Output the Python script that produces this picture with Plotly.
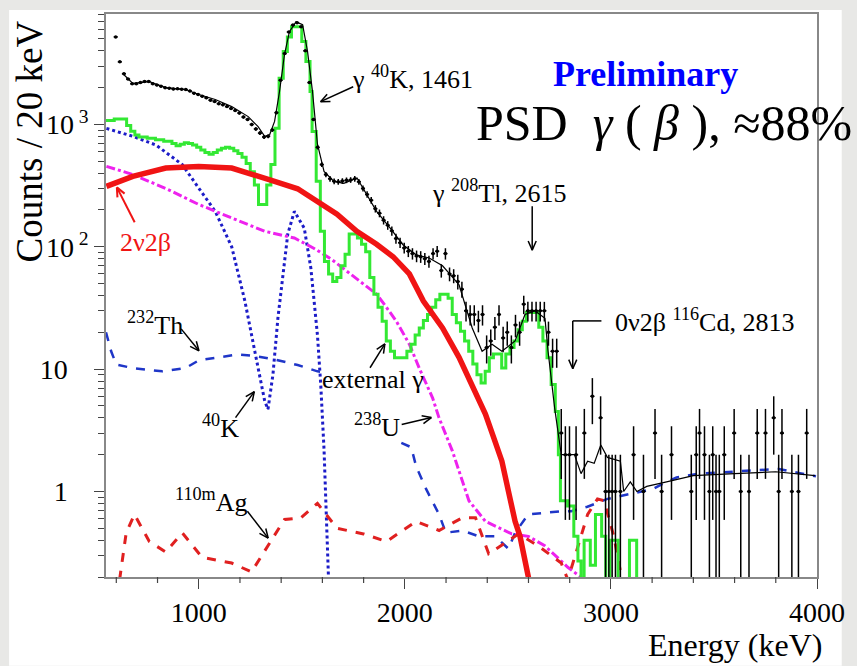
import math
import numpy as np
import plotly.graph_objects as go

W, H = 857, 666
L, R, T, B = 106, 825, 12, 577
FONT = "'Liberation Serif', 'Times New Roman', Times, serif"


def fx(x):
    return (x - L) / (R - L)


def fy(y):
    return (B - y) / (B - T)


# ---------------- data (Energy keV, counts / 20 keV) ----------------
data_E = [597, 617, 637, 657, 677, 697, 717, 737, 757, 777, 797, 817, 837, 857, 877, 897, 917, 937,
          957, 977, 997, 1017, 1037, 1057, 1077, 1097, 1117, 1137, 1157, 1177, 1197, 1217, 1237, 1257,
          1277, 1297, 1317, 1337, 1357, 1377, 1397, 1417, 1437, 1457, 1477, 1497, 1517, 1537, 1557,
          1577, 1597, 1617, 1637, 1657, 1677, 1697, 1717, 1737, 1757, 1777, 1797, 1817, 1837, 1857,
          1877, 1897, 1917, 1937, 1957, 1977, 1997, 2017, 2037, 2057, 2077, 2097, 2117, 2137, 2157,
          2177, 2197, 2217, 2237, 2257, 2277, 2297, 2317, 2337, 2357, 2377, 2397, 2417, 2437, 2457,
          2477, 2497, 2517, 2537, 2557, 2577, 2597, 2617, 2637, 2657, 2677, 2697, 2717, 2737,
          2759, 2779, 2799, 2831, 2871, 2910, 2950, 2974, 2990, 3006, 3022, 3046, 3110, 3158, 3214,
          3246, 3294, 3390, 3414, 3430, 3454, 3478, 3494, 3510, 3526, 3550, 3598, 3630, 3670, 3710,
          3750, 3790, 3814, 3830, 3878, 3910, 3950]
data_C = [5200, 3250, 2600, 2350, 2150, 2150, 2200, 2250, 2250, 2150, 2100, 2050, 2000, 1980, 1950, 1960, 1940, 1930,
          1880, 1800, 1760, 1700, 1650, 1580, 1540, 1480, 1450, 1400, 1350, 1300, 1240, 1150, 1100, 1000,
          920, 850, 790, 800, 900, 1250, 2300, 3800, 5700, 6500, 6800, 6300, 4000, 2200, 1100,
          650, 470, 390, 360, 343, 340, 345, 350, 352, 360, 340, 300, 268, 240, 205,
          188, 165, 150, 135, 117, 108, 98, 92, 88, 84, 83, 80, 76, 88, 92,
          64, 88, 60, 58, 52, 45, 30, 28, 28, 25, 28, 15, 17, 22, 28,
          18, 20, 15, 23, 20, 34, 30, 30, 30, 30, 30, 20, 14, 14,
          3, 2, 2, 2, 3, 6, 4, 1, 1, 1, 1, 1, 2, 1, 3,
          1, 2, 1, 2, 3, 2, 1, 2, 1, 1, 2, 3, 1, 1, 3,
          3, 4, 1, 3, 1, 1, 3]

fit_E = [632, 680, 760, 840, 936, 1000, 1080, 1160, 1240, 1288, 1320, 1344, 1368, 1392, 1416, 1440, 1472,
         1504, 1528, 1552, 1576, 1608, 1656, 1704, 1768, 1816, 1863, 1928, 1991, 2055, 2118, 2183, 2263,
         2327, 2375, 2423, 2471, 2535, 2583, 2631, 2680, 2695, 2727, 2759, 2823, 2855, 2887, 2919, 2951,
         2983, 3046, 3062, 3094, 3126, 3174, 3270, 3400, 3600, 3800, 3990]
fit_C = [2600, 2170, 2240, 2000, 1930, 1760, 1600, 1400, 1160, 960, 800, 824, 1060, 1860, 3720, 5740, 6900,
         6550, 3950, 1860, 690, 413, 343, 330, 365, 268, 195, 143, 104, 86, 81, 70, 49,
         21.7, 14, 16, 14, 17, 28, 30, 26, 14, 4.8, 2.0, 2.0, 1.4, 1.77, 1.7, 2.4,
         1.9, 1.77, 1.0, 1.2, 1.0, 1.1, 1.2, 1.35, 1.4, 1.45, 1.35]

ext_E = [550, 590, 650, 670, 690, 710, 750, 790, 830, 870, 890, 910, 930, 950, 970, 990, 1010, 1030,
         1050, 1070, 1090, 1110, 1130, 1150, 1170, 1190, 1210, 1230, 1250, 1270, 1290, 1330, 1350,
         1370, 1390, 1410, 1430, 1450, 1500, 1520, 1540, 1550, 1570, 1590, 1610, 1630, 1650, 1670,
         1690, 1710, 1730, 1770, 1790, 1810, 1830, 1850, 1870, 1890, 1910, 1930, 1950, 2010, 2030,
         2050, 2070, 2090, 2110, 2130, 2150, 2170, 2210, 2230, 2250, 2270, 2290, 2310, 2330, 2350,
         2370, 2390, 2410, 2430, 2450, 2470, 2490, 2510, 2530, 2550, 2570, 2590, 2650, 2670, 2690,
         2710, 2730, 2745, 2755, 2790, 2820, 2840, 2855, 2870, 2900, 2925, 2955, 2975, 2995, 3035,
         3090, 3125, 4000]
ext_C = [1080, 1110, 980, 880, 820, 790, 770, 750, 730, 700, 670, 690, 710, 700, 680, 650, 620, 590,
         570, 590, 620, 640, 650, 640, 610, 580, 540, 480, 410, 320, 222, 320, 470,
         930, 2390, 3950, 5200, 6300, 4770, 3270, 1860, 877, 343, 134, 76, 60, 52, 56,
         70, 87, 127, 118, 105, 91, 56, 41, 32, 24.6, 17, 14, 12.4, 14, 16,
         19, 21.7, 25, 28, 32, 37, 41, 38, 28, 24, 20.4, 17, 14, 11, 9,
         7.7, 9.6, 12.4, 13.3, 13.3, 10.2, 13.3, 15, 17, 21, 24.6, 29, 22, 17, 12.4,
         7.5, 4.5, 2.0, 0.84, 0.76, 0.43, 0.27, 0.01, 0.4, 0.25, 0.65, 0.43, 0.01, 0.4, 0.01,
         0.4, 0.01, 0.01]

bb2n_E = [552, 680, 840, 1000, 1160, 1272, 1368, 1480, 1576, 1671, 1767, 1863, 1943, 2022, 2090, 2183,
          2263, 2327, 2359, 2391, 2430, 2471, 2503, 2535, 2559, 2583, 2605]
bb2n_C = [312, 376, 440, 454, 440, 390, 343, 298, 235, 185, 134, 105, 83, 60, 36, 21.7,
          12.5, 7.5, 5.7, 4.3, 2.8, 1.77, 1.0, 0.57, 0.43, 0.27, 0.18]

k40_E = [552, 680, 792, 920, 1000, 1080, 1160, 1224, 1272, 1320, 1336, 1360, 1384, 1432, 1464, 1512,
         1544, 1576, 1592, 1608, 1632]
k40_C = [930, 800, 680, 470, 302, 195, 100, 36, 14, 5.5, 4.7, 9, 26, 127, 195, 142,
         67, 19, 7.5, 2.2, 0.15]

u238_E = [552, 680, 840, 1000, 1160, 1320, 1464, 1560, 1640, 1720, 1800, 1863, 1911, 1959, 2022, 2070,
          2135, 2166, 2231, 2311, 2391, 2519, 2599, 2679, 2759, 2791, 2871]
u238_C = [455, 390, 300, 222, 172, 134, 118, 97, 80, 63, 49, 41, 32, 24.6, 16, 10.2,
          5.8, 4.0, 2.14, 0.84, 0.57, 0.45, 0.43, 0.36, 0.27, 0.24, 0.19]

th232_E = [550, 575, 600, 680, 823, 936, 1000, 1100, 1192, 1272, 1368, 1480, 1576, 1620, None,
           1983, 2031, 2055, 2103, 2166, 2199, 2279, 2359, 2439, 2503, 2535, 2599, 2679, 2759, 2807,
           2886, 2983, 3110, 3206, 3270, 3318, 3430, 3590, 3750, 3814, 3910, 3995]
th232_C = [20, 14, 10.9, 10.2, 9.6, 10.2, 11.8, 12.5, 13.2, 12.8, 12, 10.8, 9.6, 9.4, None,
           2.5, 2.3, 1.6, 1.05, 0.65, 0.46, 0.48, 0.43, 0.43, 0.34, 0.46, 0.65, 0.67, 0.69, 0.69,
           0.75, 0.87, 0.97, 1.05, 1.2, 1.3, 1.4, 1.45, 1.5, 1.53, 1.42, 1.33]

ag110_E = [616, 648, 688, 760, 840, 920, 1016, 1160, 1256, 1336, 1416, 1496, 1576, 1671, 1800, 1911,
           2055, 2166, 2279, 2343, 2407, 2487, 2551, 2647, 2759, 2791, 2839, 2887, 2935, 2967, 3014, 3054]
ag110_C = [0.19, 0.46, 0.65, 0.39, 0.32, 0.46, 0.29, 0.26, 0.22, 0.36, 0.59, 0.61, 0.8, 0.5, 0.45, 0.39,
           0.57, 0.48, 0.61, 0.61, 0.31, 0.38, 0.45, 0.36, 0.26, 0.19, 0.36, 0.65, 0.87, 0.84, 0.43, 0.19]

x_ticks = [1000, 2000, 3000, 4000]
x_minor = [600, 800, 1200, 1400, 1600, 1800, 2200, 2400, 2600, 2800, 3200, 3400, 3600, 3800]
y_ticks = [1, 10, 100, 1000]
y_ticktext = ["1\u00a0\u00a0\u00a0", "10\u00a0\u00a0\u00a0", "10<sup> 2</sup>", "10<sup> 3</sup>"]

# ---------------- figure ----------------
fig = go.Figure()

fig.add_trace(go.Scatter(x=k40_E, y=k40_C, mode="lines",
                         line=dict(color="#1c1cc8", width=3, dash="dot")))
fig.add_trace(go.Scatter(x=th232_E, y=th232_C, mode="lines", connectgaps=False,
                         line=dict(color="#1f36c8", width=2.5, dash="dash")))
fig.add_trace(go.Scatter(x=u238_E, y=u238_C, mode="lines",
                         line=dict(color="#ee22ee", width=3, dash="dashdot")))
fig.add_trace(go.Scatter(x=ag110_E, y=ag110_C, mode="lines",
                         line=dict(color="#e02020", width=3, dash="dash")))
fig.add_trace(go.Scatter(x=ext_E, y=ext_C, mode="lines", line_shape="hv",
                         line=dict(color="#33e833", width=3)))
fig.add_trace(go.Scatter(x=bb2n_E, y=bb2n_C, mode="lines",
                         line=dict(color="#f01414", width=5.5)))
fig.add_trace(go.Scatter(x=fit_E, y=fit_C, mode="lines",
                         line=dict(color="black", width=1.2)))
fig.add_trace(go.Scatter(
    x=data_E, y=data_C, mode="markers",
    marker=dict(color="black", size=3.5),
    error_y=dict(type="data", array=list(np.sqrt(data_C)), color="black", thickness=1.5, width=0),
    error_x=dict(type="constant", value=10, color="black", thickness=1.5, width=0)))

minor_y = [k * 10 ** d for d in range(-1, 4) for k in range(2, 10) if 0.2 <= k * 10 ** d <= 8000]

fig.update_layout(
    width=W, height=H,
    margin=dict(l=L, r=W - R, t=T, b=H - B, pad=0),
    paper_bgcolor="#e8e8e6", plot_bgcolor="white",
    showlegend=False,
    font=dict(family=FONT, color="black"),
)
fig.update_xaxes(
    range=[550, 4000], tickmode="array", tickvals=x_ticks,
    ticks="outside", ticklen=10, tickwidth=1.2, tickcolor="#444",
    showline=True, linecolor="#888", linewidth=1.5, mirror=True,
    showgrid=False, zeroline=False,
    tickfont=dict(family=FONT, size=28, color="black"),
)
fig.update_yaxes(
    type="log", range=[np.log10(0.2), np.log10(8000)],
    tickmode="array", tickvals=y_ticks, ticktext=y_ticktext,
    ticks="outside", ticklen=10, tickwidth=1.2, tickcolor="#444",
    showline=True, linecolor="#888", linewidth=1.5, mirror=True,
    showgrid=False, zeroline=False,
    tickfont=dict(family=FONT, size=28, color="black"),
    minor=dict(tickmode="array", tickvals=minor_y, ticks="outside", ticklen=6,
               tickwidth=1.2, tickcolor="#444", showgrid=False),
)

shapes = []
# white slide-image area behind everything
shapes.append(dict(type="rect", xref="paper", yref="paper", layer="below",
                   x0=fx(8), x1=fx(850), y0=fy(666), y1=fy(8),
                   fillcolor="white", line=dict(width=0)))
# minor x ticks (outside, below the axis)
for v in x_minor:
    shapes.append(dict(type="line", xref="x", yref="paper", x0=v, x1=v,
                       y0=0, y1=-6 / (B - T), line=dict(color="#444", width=1.2)))

ann = []


def text(t, x, y, size=26, color="black", xanchor="center", angle=0):
    ann.append(dict(text=t, x=fx(x), y=fy(y), xref="paper", yref="paper", showarrow=False,
                    xanchor=xanchor, yanchor="middle", textangle=angle,
                    font=dict(family=FONT, size=size, color=color)))


def seg(p, q, color, width):
    shapes.append(dict(type="line", xref="paper", yref="paper",
                       x0=fx(p[0]), y0=fy(p[1]), x1=fx(q[0]), y1=fy(q[1]),
                       line=dict(color=color, width=width)))


def arrow(tail, tip, color="black", width=1.5, head=10, ang=24):
    seg(tail, tip, color, width)
    dx, dy = tip[0] - tail[0], tip[1] - tail[1]
    n = math.hypot(dx, dy)
    ux, uy = dx / n, dy / n
    for s in (1, -1):
        a = math.radians(ang) * s
        rx = ux * math.cos(a) - uy * math.sin(a)
        ry = ux * math.sin(a) + uy * math.cos(a)
        seg(tip, (tip[0] - head * rx, tip[1] - head * ry), color, width)


text("Counts / 20 keV", 29, 140, size=37, angle=-90)
text("Energy (keV)", 832, 645, size=32, xanchor="right")

text("γ <sup>40</sup>K, 1461", 416, 76)
arrow((356, 85), (323, 100))
text("<b>Preliminary</b>", 652, 72, size=36, color="#0000ff")
text("PSD  <i>γ</i> ( <i>β</i> ), ≈88%", 478, 121, size=50, xanchor="left")
text("γ <sup>208</sup>Tl, 2615", 503, 190)
arrow((537, 205), (537, 249))
text("0ν2β <sup>116</sup>Cd, 2813", 711, 320)
seg((607, 320), (578, 320), "black", 1.5)
arrow((578, 320), (578, 368))
text("2ν2β", 146, 241, color="#f01414")
arrow((135, 221), (117, 186), color="#f01414", width=2)
text("<sup>232</sup>Th", 156, 323)
arrow((182, 328), (200, 350))
text("external γ", 376, 379)
arrow((373, 367), (388, 343))
text("<sup>40</sup>K", 222, 426)
arrow((237, 417), (256, 391))
text("<sup>238</sup>U", 380, 425)
arrow((405, 424), (435, 417))
text("<sup>110m</sup>Ag", 213, 500)
arrow((249, 511), (270, 538))

fig.update_layout(annotations=ann, shapes=shapes)
fig.write_html("out.html")
